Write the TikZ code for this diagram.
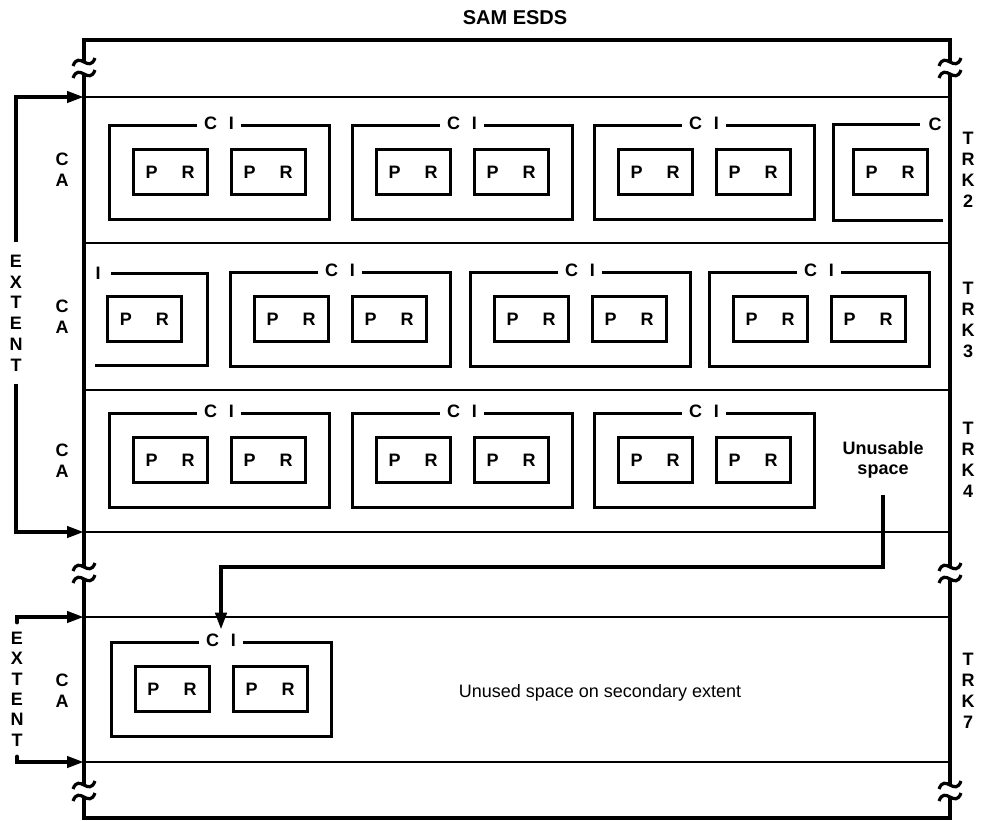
\documentclass[tikz,border=0pt]{standalone}
\usepackage{fontspec}
\setmainfont{Liberation Sans}
\usetikzlibrary{arrows.meta,positioning,calc}
\newcommand{\prtext}{P\hspace{12pt}R}
\newcommand{\ciblock}[3]{%
  \node[cibox] (#1) at (#2,#3) {};
  \node[cilabel] (#1lab) at (#1.north) {C\hspace{6pt}I};
  \node[prbox, xshift=-24.5pt] (#1a) at (#1) {\prtext};
  \node[prbox, xshift=24.5pt] (#1b) at (#1) {\prtext};}
\tikzset{brkmark/.pic={
  \draw[line width=1.6pt] (-11,-2) .. controls (-5,-18) and (5,6) .. (11,-10);
  \draw[line width=1.6pt] (-11,10) .. controls (-5,-6) and (5,18) .. (11,2);}}

\begin{document}
\begin{tikzpicture}[
  x=0.5pt, y=-0.5pt,
  every node/.style={font=\bfseries\fontsize{9}{10.5}\selectfont, inner sep=0pt},
  outline/.style={line width=1.9pt},
  trackline/.style={line width=1.4pt},
  boxline/.style={line width=1.5pt},
  cibox/.style={draw, boxline, minimum width=110pt, minimum height=47pt},
  prbox/.style={draw, boxline, minimum width=37pt, minimum height=22.5pt},
  cilabel/.style={fill=white, inner xsep=3.5pt, inner ysep=2pt},
  stack/.style={align=center},
  arrow/.style={-{Triangle[length=8.5pt,width=5.5pt]}, line width=2pt}
]
\useasboundingbox (0,0) rectangle (989,820);

% data set outline with breaks
\draw[outline] (84,62) |- (950,40) -- (950,62)
  (84,74) -- (84,567) (84,579) -- (84,785) (84,797) |- (950,818) -- (950,797)
  (950,74) -- (950,567) (950,579) -- (950,785);
\pic at (84,68) {brkmark};  \pic at (950,68) {brkmark};
\pic at (84,573) {brkmark}; \pic at (950,573) {brkmark};
\pic at (84,791) {brkmark}; \pic at (950,791) {brkmark};

\coordinate (ext1in) at (84,97);
\coordinate (ext1out) at (84,532);
\coordinate (ext2in) at (84,617);
\coordinate (ext2out) at (84,762);
\draw[trackline] (ext1in) -- (950,97) (84,243) -- (950,243) (84,390) -- (950,390)
  (ext1out) -- (950,532) (ext2in) -- (950,617) (ext2out) -- (950,762);

\node[font=\bfseries\fontsize{10}{12}\selectfont] (title) at (515,18) {SAM ESDS};

% control areas and track labels
\node[stack] (ca2) at (62,170) {C\\A};
\node[stack] (ca3) at (62,317) {C\\A};
\node[stack] (ca4) at (62,461) {C\\A};
\node[stack] (ca7) at (62,691) {C\\A};
\node[stack] (trk2) at (968,170) {T\\R\\K\\2};
\node[stack] (trk3) at (968,320) {T\\R\\K\\3};
\node[stack] (trk4) at (968,460) {T\\R\\K\\4};
\node[stack] (trk7) at (968,691) {T\\R\\K\\7};

% control intervals
\ciblock{c21}{219}{172} \ciblock{c22}{462}{172} \ciblock{c23}{704}{172}
\ciblock{c32}{340}{319} \ciblock{c33}{580}{319} \ciblock{c34}{819}{319}
\ciblock{c41}{219}{460} \ciblock{c42}{462}{460} \ciblock{c43}{704}{460}
\ciblock{c71}{221}{689}

% interval spanning TRK2 and TRK3
\node[prbox] (c24a) at (890,172) {\prtext};
\node (c24lab) at (935,124) {C};
\draw[boxline] ([xshift=-4pt]c24lab.west) -| (833,220) -- (943,220);
\node[prbox] (c31a) at (144.5,319) {\prtext};
\node (c31lab) at (98,273) {I};
\draw[boxline] ([xshift=5pt]c31lab.east) -| (207,365) -- (95,365);

\node[font=\bfseries\fontsize{9}{10}\selectfont, align=center] (unusable) at (883,460) {Unusable\\space};
\node[font=\fontsize{9}{11}\selectfont] (unused) at (600,693) {Unused space on secondary extent};

% extents
\node[stack, font=\bfseries\fontsize{9}{10.4}\selectfont] (ext1) at (16,313) {E\\X\\T\\E\\N\\T};
\node[stack, font=\bfseries\fontsize{9}{10.2}\selectfont] (ext2) at (17,689) {E\\X\\T\\E\\N\\T};
\draw[arrow] ([yshift=6pt]ext1.north) |- (ext1in);
\draw[arrow] ([yshift=-6pt]ext1.south) |- (ext1out);
\draw[arrow, line cap=round] ([yshift=4.5pt]ext2.north) |- (ext2in);
\draw[arrow, line cap=round] ([yshift=-5pt]ext2.south) |- (ext2out);
\draw[arrow] ([yshift=-8pt]unusable.south) -- ++(0,72) -| (c71lab.north);
\end{tikzpicture}
\end{document}
